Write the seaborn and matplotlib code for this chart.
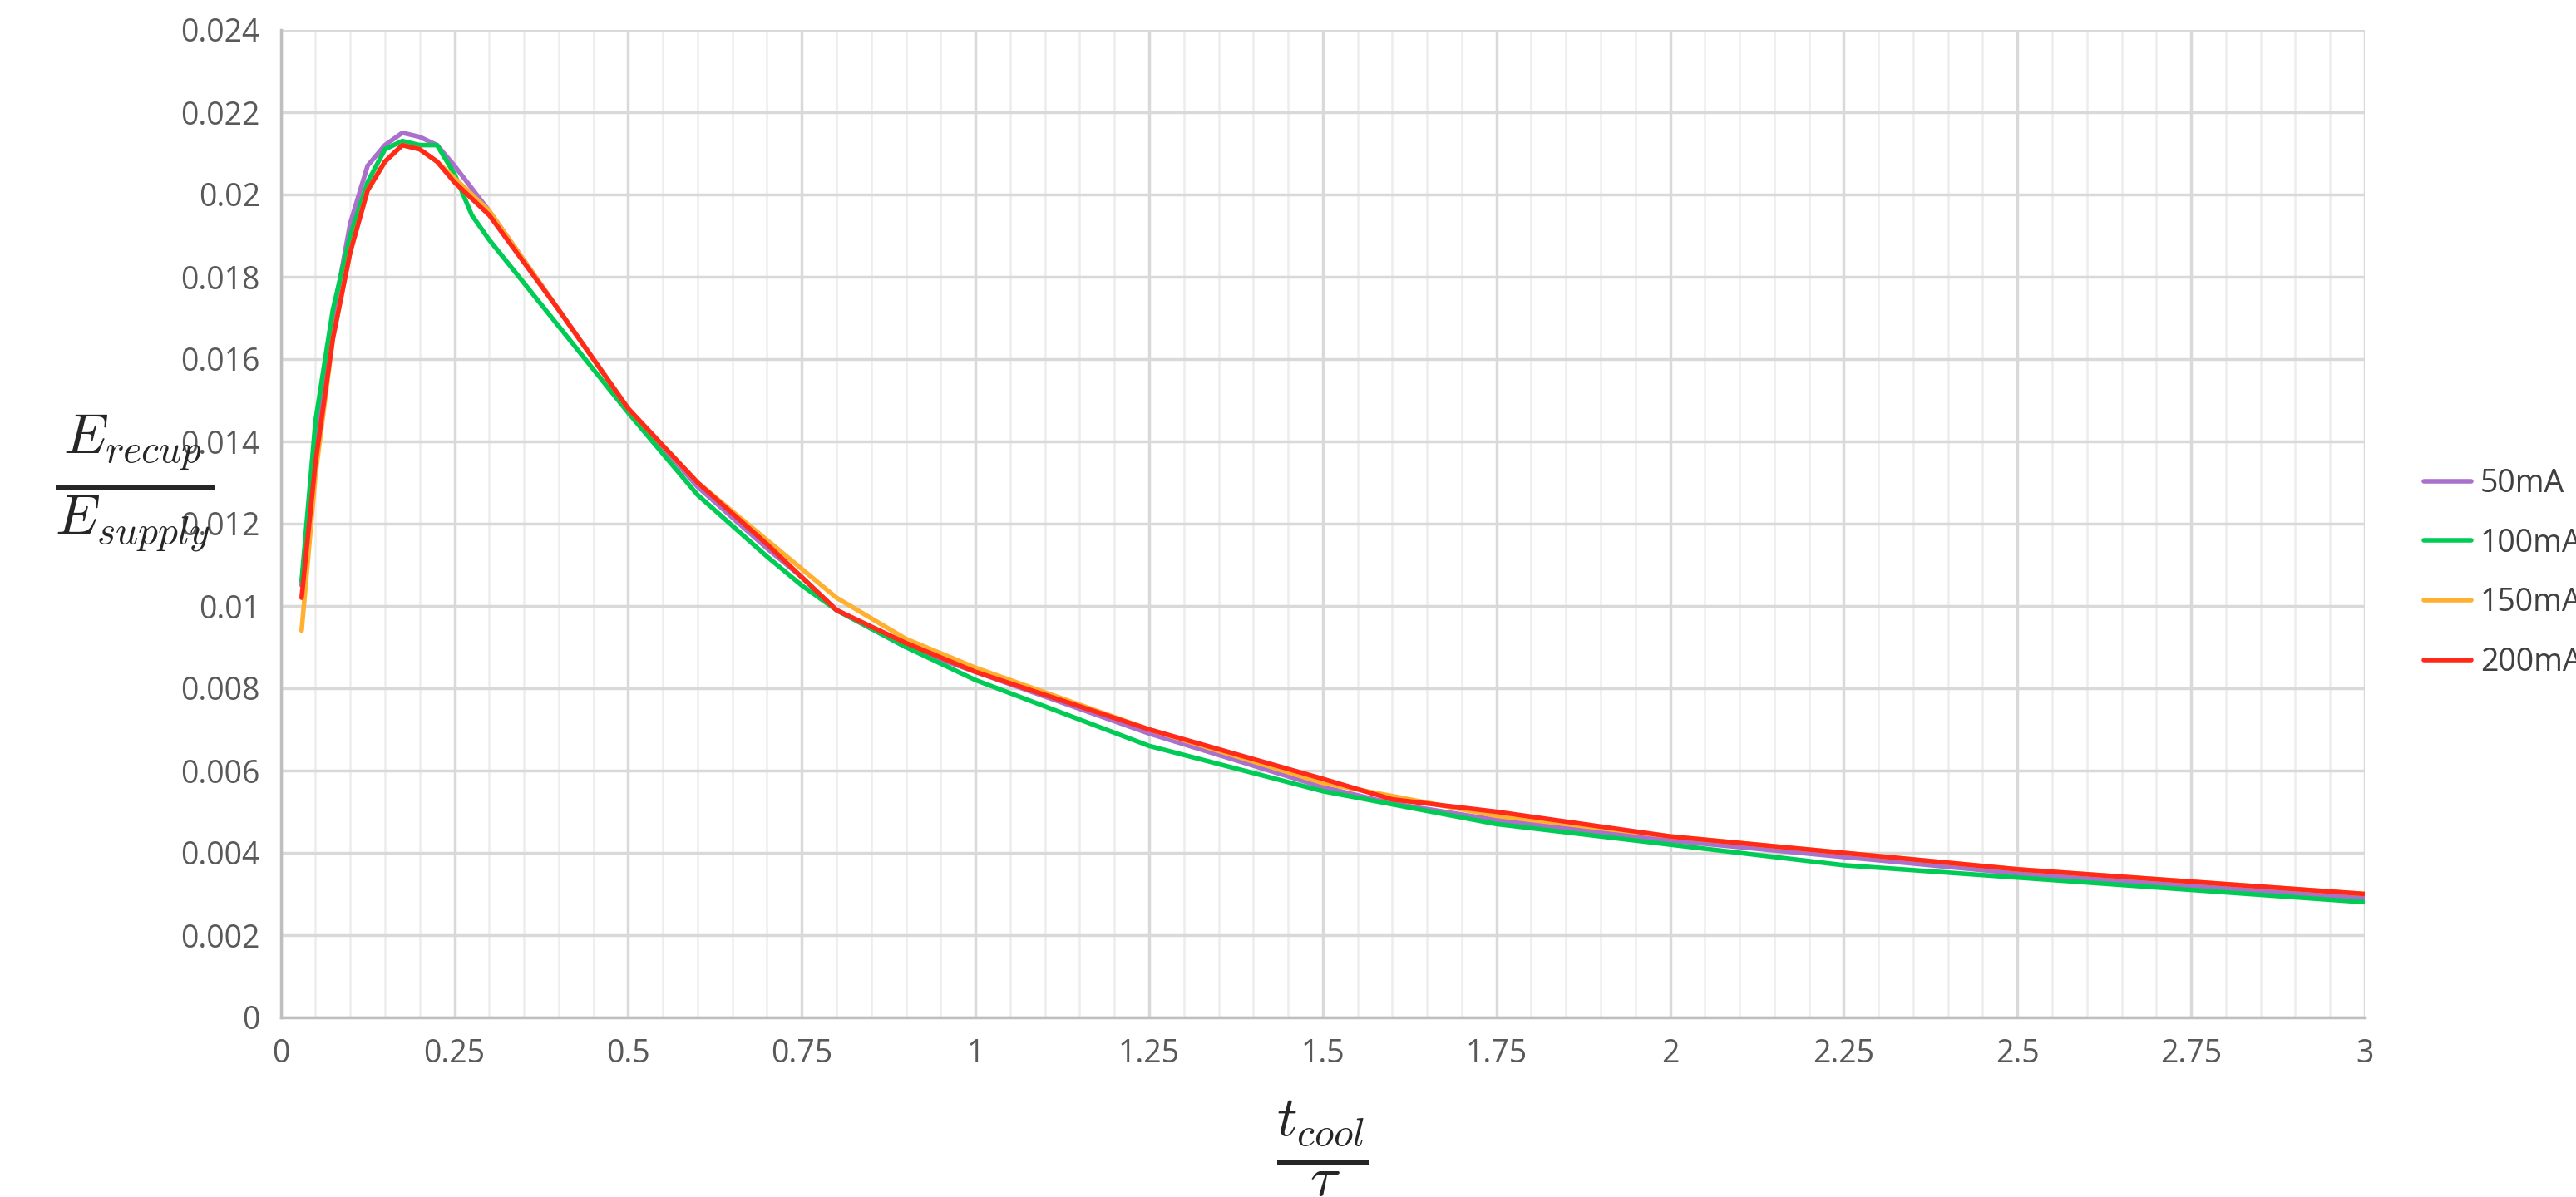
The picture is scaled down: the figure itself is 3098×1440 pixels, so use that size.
import matplotlib
matplotlib.use("Agg")
import matplotlib.pyplot as plt
import seaborn as sns
import pandas as pd
import numpy as np
from matplotlib.ticker import MultipleLocator

x50 = [0.03,0.05,0.075,0.1,0.125,0.15,0.175,0.2,0.225,0.25,0.3,0.4,0.5,0.6,0.7,0.75,0.8,0.9,1.0,1.25,1.5,1.6,1.75,2.0,2.25,2.5,2.75,3.0]
y50 = [0.0105,0.014,0.017,0.0193,0.0207,0.0212,0.0215,0.0214,0.0212,0.0207,0.0196,0.0172,0.0148,0.0129,0.0114,0.0107,0.0099,0.0090,0.0084,0.0069,0.0056,0.0052,0.0048,0.0043,0.0039,0.0035,0.0032,0.0029]
x100 = [0.03,0.05,0.075,0.1,0.125,0.15,0.175,0.2,0.225,0.25,0.275,0.3,0.4,0.5,0.6,0.7,0.75,0.8,0.9,1.0,1.25,1.5,1.75,2.0,2.25,2.5,2.75,3.0]
y100 = [0.0106,0.0145,0.0172,0.019,0.0203,0.0211,0.0213,0.0212,0.0212,0.0205,0.0195,0.0189,0.0168,0.0147,0.0127,0.0112,0.0105,0.0099,0.0090,0.0082,0.0066,0.0055,0.0047,0.0042,0.0037,0.0034,0.0031,0.0028]
x150 = [0.03,0.05,0.075,0.1,0.125,0.15,0.175,0.2,0.225,0.25,0.3,0.4,0.5,0.6,0.7,0.75,0.8,0.9,1.0,1.25,1.5,1.75,2.0,2.25,2.5,2.75,3.0]
y150 = [0.0094,0.0132,0.0165,0.0186,0.0201,0.0208,0.0212,0.0211,0.0208,0.0204,0.0196,0.0172,0.0148,0.0130,0.0116,0.0109,0.0102,0.0092,0.0085,0.0070,0.0057,0.0049,0.0044,0.0040,0.0036,0.0033,0.0030]
x200 = [0.03,0.05,0.075,0.1,0.125,0.15,0.175,0.2,0.225,0.25,0.3,0.4,0.5,0.6,0.7,0.75,0.8,0.9,1.0,1.25,1.5,1.6,1.75,2.0,2.25,2.5,2.75,3.0]
y200 = [0.0102,0.0135,0.0165,0.0186,0.0201,0.0208,0.0212,0.0211,0.0208,0.0203,0.0195,0.0172,0.0148,0.0130,0.0115,0.0107,0.0099,0.0091,0.0084,0.0070,0.0058,0.0053,0.0050,0.0044,0.0040,0.0036,0.0033,0.0030]
labels = ["50mA", "100mA", "150mA", "200mA"]
colors = ["#A970CC", "#00CC55", "#FFB030", "#FF2A1A"]

frames = []
for lab, xs, ys in zip(labels, [x50, x100, x150, x200], [y50, y100, y150, y200]):
    frames.append(pd.DataFrame({"x": xs, "y": ys, "s": lab}))
df = pd.concat(frames, ignore_index=True)

sns.set_style("white")
plt.rcParams["font.family"] = ["Open Sans", "DejaVu Sans"]
plt.rcParams["mathtext.fontset"] = "cm"
fig = plt.figure(figsize=(30.98, 14.4), dpi=100)
ax = fig.add_axes([0.109, 0.15, 0.809, 0.825])
sns.lineplot(data=df, x="x", y="y", hue="s", palette=dict(zip(labels, colors)),
             linewidth=4, ax=ax, sort=True, estimator=None)
ax.set_xlim(0, 3)
ax.set_ylim(0, 0.024)
ax.xaxis.set_major_locator(MultipleLocator(0.25))
ax.xaxis.set_minor_locator(MultipleLocator(0.05))
ax.grid(which="major", color="#D9D9D9", linewidth=2.5)
ax.grid(which="minor", axis="x", color="#EDEDED", linewidth=1.8)
ax.set_axisbelow(True)
for s in ["top", "right"]:
    ax.spines[s].set_visible(False)
for s in ["left", "bottom"]:
    ax.spines[s].set_color("#BFBFBF")
    ax.spines[s].set_linewidth(2.5)
ax.set_xticks([0, 0.25, 0.5, 0.75, 1, 1.25, 1.5, 1.75, 2, 2.25, 2.5, 2.75, 3])
ax.set_xticklabels(["0", "0.25", "0.5", "0.75", "1", "1.25", "1.5", "1.75", "2", "2.25", "2.5", "2.75", "3"])
ax.set_yticks(np.arange(0, 0.0241, 0.002))
ax.set_yticklabels(["0", "0.002", "0.004", "0.006", "0.008", "0.01", "0.012", "0.014", "0.016", "0.018", "0.02", "0.022", "0.024"])
ax.tick_params(axis="both", labelsize=27, labelcolor="#595959", length=0, pad=18)
ax.set_xlabel(r"$\frac{t_{cool}}{\tau}$", fontsize=70, labelpad=25)
ax.set_ylabel(r"$\frac{E_{recup}}{E_{supply}}$", fontsize=70, rotation=0)
ax.yaxis.set_label_coords(-0.07, 0.47)
leg = ax.legend(title=None, loc="center left", bbox_to_anchor=(1.015, 0.45), frameon=False,
                fontsize=27, handlelength=1.5, handletextpad=0.3, labelspacing=0.9)
for line in leg.get_lines():
    line.set_linewidth(4)
for t in leg.get_texts():
    t.set_color("#404040")
fig.savefig("out.png", dpi=100, facecolor="white")
